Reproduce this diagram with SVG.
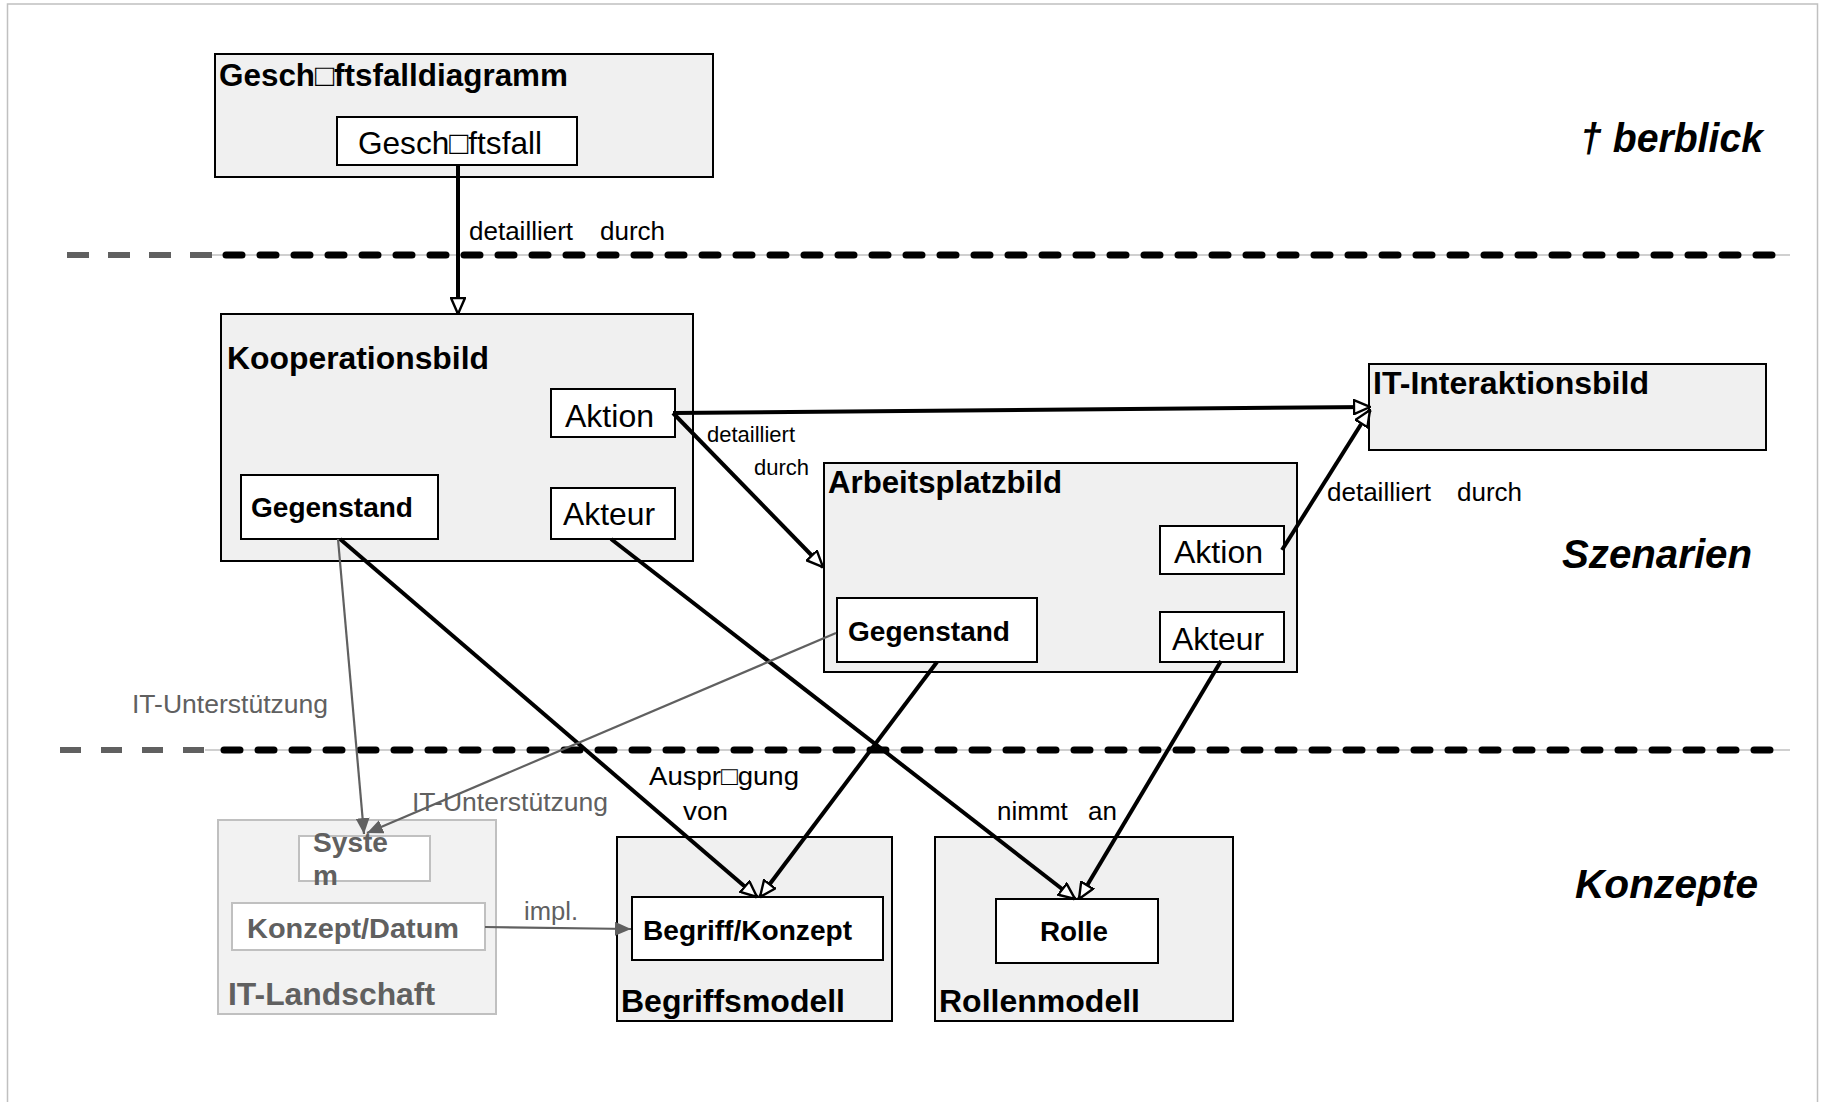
<svg xmlns="http://www.w3.org/2000/svg" width="1822" height="1102" viewBox="0 0 1822 1102">
<style>
text{font-family:"Liberation Sans",Arial,"DejaVu Sans",sans-serif;fill:#000}
.t{font-weight:bold;font-size:31px}
.b{font-weight:bold;font-size:28px}
.r{font-size:32px}
.lb{font-size:26px}
.sm{font-size:22px}
.side{font-weight:bold;font-style:italic;font-size:40px}
.g{fill:#606060}
.outer{fill:#f0f0f0;stroke:#000;stroke-width:2}
.inner{fill:#fff;stroke:#000;stroke-width:2}
.gouter{fill:#f2f2f2;stroke:#c0c0c0;stroke-width:2}
.ginner{fill:#fff;stroke:#c0c0c0;stroke-width:2}
.con{fill:none;stroke:#000;stroke-width:4}
.gcon{fill:none;stroke:#606060;stroke-width:2.2}
</style>
<defs>
<marker id="open" viewBox="0 0 18 16" refX="17" refY="8" markerWidth="18" markerHeight="16" markerUnits="userSpaceOnUse" orient="auto">
<path d="M1,1 L17,8 L1,15 Z" fill="#fff" stroke="#000" stroke-width="2.4" stroke-linejoin="miter"/>
</marker>
<marker id="fill" viewBox="0 0 16 14" refX="16" refY="7" markerWidth="16" markerHeight="14" markerUnits="userSpaceOnUse" orient="auto">
<path d="M0,0 L16,7 L0,14 Z" fill="#606060"/>
</marker>
</defs>
<rect x="7.5" y="4" width="1810" height="1120" fill="none" stroke="#c0c0c0" stroke-width="1.5"/>

<g id="separators">
<line x1="212" y1="255" x2="1790" y2="255" stroke="#c0c0c0" stroke-width="1.5"/>
<line x1="67" y1="255" x2="212" y2="255" stroke="#606060" stroke-width="6" stroke-dasharray="22 19"/>
<line x1="226" y1="255" x2="1788" y2="255" stroke="#000" stroke-width="7" stroke-linecap="round" stroke-dasharray="16 18"/>
<line x1="205" y1="750" x2="1790" y2="750" stroke="#c0c0c0" stroke-width="1.5"/>
<line x1="60" y1="750" x2="205" y2="750" stroke="#606060" stroke-width="6" stroke-dasharray="21 20"/>
<line x1="224" y1="750" x2="1788" y2="750" stroke="#000" stroke-width="7" stroke-linecap="round" stroke-dasharray="16 18"/>
</g>

<g id="layer-labels">
<text class="side" x="1580" y="152" textLength="183" lengthAdjust="spacingAndGlyphs">† berblick</text>
<text class="side" x="1562" y="568" textLength="190" lengthAdjust="spacingAndGlyphs">Szenarien</text>
<text class="side" x="1575" y="898" textLength="183" lengthAdjust="spacingAndGlyphs">Konzepte</text>
</g>

<g id="geschaeftsfalldiagramm">
<rect class="outer" x="215" y="54" width="498" height="123"/>
<text class="t" x="219" y="86" textLength="349" lengthAdjust="spacingAndGlyphs">Gesch□ftsfalldiagramm</text>
</g>
<g id="geschaeftsfall">
<rect class="inner" x="337" y="117" width="240" height="48"/>
<text class="r" x="358" y="154" textLength="184" lengthAdjust="spacingAndGlyphs">Gesch□ftsfall</text>
</g>

<g id="kooperationsbild">
<rect class="outer" x="221" y="314" width="472" height="247"/>
<text class="t" x="227" y="369" textLength="262" lengthAdjust="spacingAndGlyphs">Kooperationsbild</text>
</g>
<g id="koop-aktion">
<rect class="inner" x="551" y="389" width="124" height="48"/>
<text class="r" x="565" y="427" textLength="89" lengthAdjust="spacingAndGlyphs">Aktion</text>
</g>
<g id="koop-akteur">
<rect class="inner" x="551" y="488" width="124" height="51"/>
<text class="r" x="563" y="525" textLength="92" lengthAdjust="spacingAndGlyphs">Akteur</text>
</g>
<g id="koop-gegenstand">
<rect class="inner" x="241" y="475" width="197" height="64"/>
<text class="b" x="251" y="517" textLength="162" lengthAdjust="spacingAndGlyphs">Gegenstand</text>
</g>

<g id="it-interaktionsbild">
<rect class="outer" x="1369" y="364" width="397" height="86"/>
<text class="t" x="1373" y="394" textLength="276" lengthAdjust="spacingAndGlyphs">IT-Interaktionsbild</text>
</g>

<g id="arbeitsplatzbild">
<rect class="outer" x="824" y="463" width="473" height="209"/>
<text class="t" x="828" y="493" textLength="234" lengthAdjust="spacingAndGlyphs">Arbeitsplatzbild</text>
</g>
<g id="ap-aktion">
<rect class="inner" x="1160" y="526" width="124" height="48"/>
<text class="r" x="1174" y="563" textLength="89" lengthAdjust="spacingAndGlyphs">Aktion</text>
</g>
<g id="ap-akteur">
<rect class="inner" x="1160" y="612" width="124" height="50"/>
<text class="r" x="1172" y="650" textLength="92" lengthAdjust="spacingAndGlyphs">Akteur</text>
</g>
<g id="ap-gegenstand">
<rect class="inner" x="837" y="598" width="200" height="64"/>
<text class="b" x="848" y="641" textLength="162" lengthAdjust="spacingAndGlyphs">Gegenstand</text>
</g>

<g id="it-landschaft">
<rect class="gouter" x="218" y="820" width="278" height="194"/>
<text class="t g" x="228" y="1005" textLength="207" lengthAdjust="spacingAndGlyphs">IT-Landschaft</text>
</g>
<g id="system">
<rect class="ginner" x="299" y="836" width="131" height="45"/>
<text class="b g" x="313" y="852" textLength="75" lengthAdjust="spacingAndGlyphs">Syste</text>
<text class="b g" x="313" y="885">m</text>
</g>
<g id="konzept-datum">
<rect class="ginner" x="232" y="903" width="253" height="47"/>
<text class="b g" x="247" y="938" textLength="212" lengthAdjust="spacingAndGlyphs">Konzept/Datum</text>
</g>

<g id="begriffsmodell">
<rect class="outer" x="617" y="837" width="275" height="184"/>
<text class="t" x="621" y="1012" textLength="224" lengthAdjust="spacingAndGlyphs">Begriffsmodell</text>
</g>
<g id="begriff-konzept">
<rect class="inner" x="632" y="897" width="251" height="63"/>
<text class="b" x="643" y="940" textLength="209" lengthAdjust="spacingAndGlyphs">Begriff/Konzept</text>
</g>

<g id="rollenmodell">
<rect class="outer" x="935" y="837" width="298" height="184"/>
<text class="t" x="939" y="1012" textLength="201" lengthAdjust="spacingAndGlyphs">Rollenmodell</text>
</g>
<g id="rolle">
<rect class="inner" x="996" y="899" width="162" height="64"/>
<text class="b" x="1040" y="941" textLength="68" lengthAdjust="spacingAndGlyphs">Rolle</text>
</g>

<g id="connectors">
<line class="con" x1="458" y1="165" x2="458" y2="314" marker-end="url(#open)"/>
<line class="con" x1="673" y1="413" x2="1370" y2="407" marker-end="url(#open)"/>
<line class="con" x1="673" y1="413" x2="823" y2="567" marker-end="url(#open)"/>
<line class="con" x1="1282" y1="550" x2="1370" y2="410" marker-end="url(#open)"/>
<line class="con" x1="340" y1="539" x2="757" y2="897" marker-end="url(#open)"/>
<line class="con" x1="937" y1="662" x2="760" y2="897" marker-end="url(#open)"/>
<line class="con" x1="611" y1="539" x2="1075" y2="899" marker-end="url(#open)"/>
<line class="con" x1="1221" y1="661" x2="1079" y2="899" marker-end="url(#open)"/>
<line class="gcon" x1="338" y1="539" x2="364" y2="834" marker-end="url(#fill)"/>
<line class="gcon" x1="836" y1="633" x2="367" y2="833" marker-end="url(#fill)"/>
<line class="gcon" x1="485" y1="927" x2="631" y2="929" marker-end="url(#fill)"/>
<text class="lb"><tspan x="469" y="240">detailliert</tspan><tspan x="600" y="240">durch</tspan></text>
<text class="sm"><tspan x="707" y="442">detailliert</tspan><tspan x="754" y="475">durch</tspan></text>
<text class="lb"><tspan x="1327" y="501">detailliert</tspan><tspan x="1457" y="501">durch</tspan></text>
<text class="lb g" x="132" y="713" textLength="196" lengthAdjust="spacingAndGlyphs">IT-Unterstützung</text>
<text class="lb g" x="412" y="811" textLength="196" lengthAdjust="spacingAndGlyphs">IT-Unterstützung</text>
<text class="lb g" x="524" y="920" textLength="54" lengthAdjust="spacingAndGlyphs">impl.</text>
<text class="lb" x="649" y="785" textLength="150" lengthAdjust="spacingAndGlyphs">Auspr□gung</text>
<text class="lb" x="683" y="820" textLength="45" lengthAdjust="spacingAndGlyphs">von</text>
<text class="lb"><tspan x="997" y="820">nimmt</tspan><tspan x="1088" y="820">an</tspan></text>
</g>
</svg>
